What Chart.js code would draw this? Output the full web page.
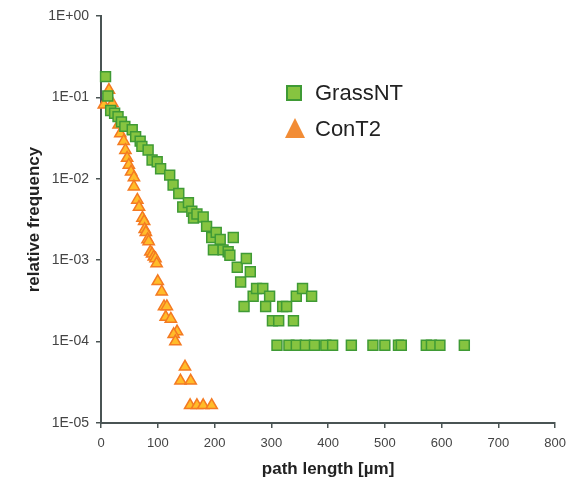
<!DOCTYPE html>
<html>
<head>
<meta charset="utf-8">
<script src="https://cdn.jsdelivr.net/npm/chart.js@4"></script>
<style>
  html, body { margin: 0; padding: 0; background: #fff; }
</style>
</head>
<body>
<canvas id="chart" width="574" height="486"></canvas>
<script>
// GrassNT: path length (µm) / relative frequency
const grassX = [8, 12, 17, 24, 30, 36, 42, 55, 61, 69, 72, 83, 90, 99, 105, 121, 127, 137, 144, 154,
  160, 163, 169, 180, 186, 195, 198, 203, 210, 215, 224, 227, 233, 240, 246, 252, 256, 263, 268, 274,
  285, 290, 297, 302, 313, 320, 327, 339, 344, 355, 371,
  310, 331, 344, 360, 376, 396, 408, 441, 479, 500, 524, 529, 573, 582, 597, 640]
const grassY = [0.18, 0.104, 0.069, 0.064, 0.058, 0.050, 0.044, 0.040, 0.033, 0.029, 0.025, 0.0226, 0.017, 0.0162, 0.0133, 0.0111, 0.0084, 0.0066, 0.0045, 0.0051,
  0.0040, 0.0033, 0.0037, 0.0034, 0.0026, 0.0019, 0.00134, 0.0022, 0.0018, 0.00134, 0.00127, 0.00115, 0.0019, 0.00082, 0.00054, 0.00027, 0.00105, 0.00072, 0.00036, 0.00045,
  0.00045, 0.00027, 0.00036, 0.00018, 0.00018, 0.00027, 0.00027, 0.00018, 0.00036, 0.00045, 0.00036,
  0.00009, 0.00009, 0.00009, 0.00009, 0.00009, 0.00009, 0.00009, 0.00009, 0.00009, 0.00009, 0.00009, 0.00009, 0.00009, 0.00009, 0.00009, 0.00009]

// ConT2
const conX = [5, 14, 20, 26, 31, 34, 40, 43, 46, 49, 53, 58, 58, 64, 67, 73, 76, 77, 79, 82, 84, 87, 90, 93, 96, 98, 100,
  107, 111, 116, 114, 123, 134, 128, 131, 148, 140, 158, 157, 169, 180, 195]
const conY = [0.081, 0.123, 0.085, 0.061, 0.046, 0.036, 0.029, 0.0225, 0.018, 0.0148, 0.0122, 0.0104, 0.0080, 0.0055, 0.0045, 0.0033, 0.0030, 0.0024, 0.0022, 0.0018, 0.0017, 0.00127, 0.0012, 0.0011, 0.00105, 0.00091, 0.00055,
  0.00041, 0.00027, 0.00027, 0.00020, 0.00019, 0.000133, 0.000123, 0.0001, 0.000049, 0.000033, 0.000033, 0.0000165, 0.0000165, 0.0000165, 0.0000165]

const yTickValues = [1e-5, 1e-4, 1e-3, 1e-2, 1e-1, 1]
const yTickLabels = ['1E-05', '1E-04', '1E-03', '1E-02', '1E-01', '1E+00']

const toPoints = (xs, ys) => xs.map((x, i) => ({x: x, y: ys[i]}))

const FONT = "'Liberation Sans', Arial, sans-serif"
const GREEN = '#86c440', GREEN_EDGE = '#3f9a35'
const ORANGE = '#ffbc2a', ORANGE_EDGE = '#f47a22'

// legend drawn inside the plot like the original
const legendBox = {
  id: 'legendBox',
  afterDraw(chart) {
    const c = chart.ctx
    c.save()
    // square
    c.fillStyle = GREEN
    c.strokeStyle = GREEN_EDGE
    c.lineWidth = 2
    c.fillRect(287, 86, 14, 14)
    c.strokeRect(287, 86, 14, 14)
    // triangle
    c.beginPath()
    c.moveTo(295, 118)
    c.lineTo(305, 138)
    c.lineTo(285, 138)
    c.closePath()
    c.fillStyle = '#f28c35'
    c.fill()
    c.fillStyle = '#222'
    c.font = '22px ' + FONT
    c.textBaseline = 'middle'
    c.fillText(chart.data.datasets[0].label, 315, 94)
    c.fillText(chart.data.datasets[1].label, 315, 130)
    c.restore()
  }
}

const ctx = document.getElementById('chart').getContext('2d')
new Chart(ctx, {
  type: 'scatter',
  data: {
    datasets: [{
      label: 'GrassNT',
      data: toPoints(grassX, grassY),
      pointStyle: 'rect',
      radius: 7,
      backgroundColor: GREEN,
      borderColor: GREEN_EDGE,
      borderWidth: 1.5,
      clip: false
    }, {
      label: 'ConT2',
      data: toPoints(conX, conY),
      pointStyle: 'triangle',
      radius: 6.5,
      backgroundColor: ORANGE,
      borderColor: ORANGE_EDGE,
      borderWidth: 1.5,
      clip: false
    }]
  },
  options: {
    responsive: false,
    animation: false,
    layout: {padding: {top: 16, right: 15, left: 0, bottom: 0}},
    plugins: {legend: {display: false}, tooltip: {enabled: false}},
    scales: {
      x: {
        type: 'linear',
        min: 0,
        max: 800,
        afterFit: s => { s.height = 63 },
        ticks: {stepSize: 100, color: '#444', font: {family: FONT, size: 13}, padding: 8},
        grid: {drawOnChartArea: false, tickLength: 5, color: '#4a5454', lineWidth: 1.5},
        border: {color: '#4a5454', width: 2},
        title: {display: true, text: 'path length [µm]', color: '#222',
          font: {family: FONT, size: 17, weight: 'bold'}, padding: {top: 0, bottom: 6}}
      },
      y: {
        type: 'logarithmic',
        min: 1e-5,
        max: 1,
        afterFit: s => { s.width = 101 },
        afterBuildTicks: s => { s.ticks = yTickValues.map(v => ({value: v, major: true})) },
        ticks: {
          color: '#444', font: {family: FONT, size: 14}, padding: 7, autoSkip: false,
          callback: (v, i) => yTickLabels[i]
        },
        grid: {drawOnChartArea: false, tickLength: 5, color: '#4a5454', lineWidth: 1.5},
        border: {color: '#4a5454', width: 2},
        title: {display: true, text: 'relative frequency', color: '#222',
          font: {family: FONT, size: 17, weight: 'bold'}, padding: {top: 24, bottom: 0}}
      }
    }
  },
  plugins: [legendBox]
})
</script>
</body>
</html>
